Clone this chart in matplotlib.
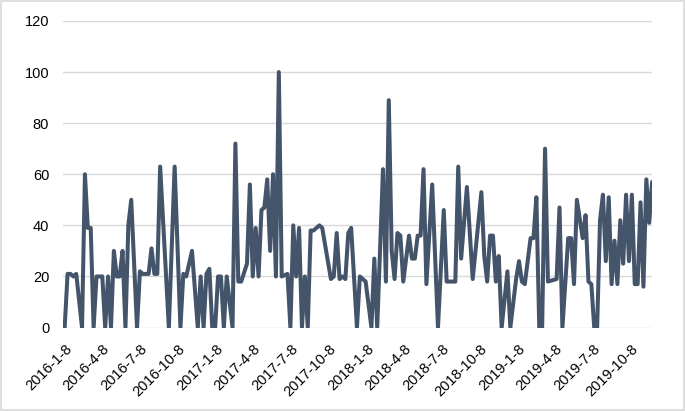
import numpy as np
import pandas as pd
import matplotlib
matplotlib.use("Agg")
import matplotlib.pyplot as plt
from matplotlib.patches import Rectangle

plt.rcParams['font.family'] = ['Liberation Sans', 'DejaVu Sans']

# weekly series starting 2016-1-8; week offsets of the turning points and their values
start_date = pd.Timestamp("2016-01-08")
weeks = [0, 1, 2, 3, 4, 6, 7, 8, 9, 10, 11, 13, 14, 15, 16, 17, 18, 19, 20, 21,
         22, 23, 25, 26, 27, 29, 30, 31, 32, 33, 36, 38, 40, 41, 42, 44, 46, 47, 48, 49,
         50, 51, 52, 53, 54, 55, 56, 58, 59, 60, 61, 63, 64, 65, 66, 67, 68, 69, 70, 71,
         72, 73, 74, 75, 77, 78, 79, 80, 81, 82, 83, 84, 85, 86, 88, 89, 92, 93, 94, 95,
         96, 97, 98, 99, 101, 102, 104, 106, 107, 108, 110, 111, 112, 113, 114, 115, 116, 117, 119, 120,
         121, 122, 123, 124, 125, 127, 129, 131, 132, 135, 136, 137, 139, 141, 144, 145, 146, 147, 148, 149,
         150, 151, 153, 154, 156, 157, 158, 159, 161, 162, 163, 164, 165, 166, 167, 170, 171, 172, 174, 175,
         176, 177, 179, 180, 181, 182, 183, 184, 185, 186, 187, 188, 189, 190, 191, 192, 193, 194, 195, 196,
         197, 198, 199, 200, 201, 202, 203]
values = [0, 21, 21, 20, 21, 0, 60, 39, 39, 0, 20, 20, 0, 20, 0, 30, 20, 20, 30, 0,
          40, 50, 0, 22, 21, 21, 31, 21, 21, 63, 0, 63, 0, 21, 20, 30, 0, 20, 0, 21,
          23, 0, 0, 20, 20, 0, 20, 0, 72, 18, 18, 25, 56, 20, 39, 20, 46, 47, 58, 30,
          60, 20, 100, 20, 21, 0, 40, 20, 39, 0, 20, 0, 38, 38, 40, 39, 19, 20, 37, 19,
          20, 19, 37, 39, 0, 20, 18, 0, 27, 0, 62, 18, 89, 30, 19, 37, 36, 18, 36, 27,
          27, 36, 36, 62, 17, 56, 0, 46, 18, 18, 63, 27, 55, 19, 53, 28, 18, 36, 36, 18,
          28, 0, 22, 0, 19, 26, 18, 17, 35, 35, 51, 0, 0, 70, 18, 19, 47, 0, 35, 35,
          17, 50, 35, 44, 18, 17, 0, 0, 42, 52, 26, 51, 17, 34, 17, 42, 25, 52, 26, 52,
          17, 17, 49, 16, 58, 41, 57]

tick_labels = ['2016-1-8', '2016-4-8', '2016-7-8', '2016-10-8', '2017-1-8', '2017-4-8',
               '2017-7-8', '2017-10-8', '2018-1-8', '2018-4-8', '2018-7-8', '2018-10-8',
               '2019-1-8', '2019-4-8', '2019-7-8', '2019-10-8']

dates = start_date + pd.to_timedelta(np.array(weeks) * 7, unit="D")
tick_pos = pd.to_datetime(tick_labels, format="%Y-%m-%d")

fig = plt.figure(figsize=(6.85, 4.11), dpi=100)
ax = fig.add_axes([0.092, 0.203, 0.86, 0.746])

ax.plot(dates, values, color='#44546A', linewidth=2.9,
        solid_joinstyle='round', solid_capstyle='round', zorder=3)

ax.set_ylim(0, 120)
ax.set_yticks(range(0, 121, 20))
ax.set_xlim(start_date - pd.Timedelta(days=4), dates[-1])
ax.set_xticks(tick_pos)
ax.set_xticklabels(tick_labels, rotation=45, ha='right', va='top',
                   rotation_mode='anchor', fontsize=10.5)
ax.tick_params(axis='y', labelsize=10.5, length=0, pad=10)
ax.tick_params(axis='x', length=0, pad=10)

ax.grid(axis='y', color='#D9D9D9', linewidth=1)
ax.set_axisbelow(True)
for s in ax.spines.values():
    s.set_visible(False)

# light chart-area border
fig.patches.append(Rectangle((0.002, 0.002), 0.996, 0.995, transform=fig.transFigure,
                             fill=False, edgecolor='#D9D9D9', linewidth=1.2))

fig.savefig("out.png", dpi=100)
